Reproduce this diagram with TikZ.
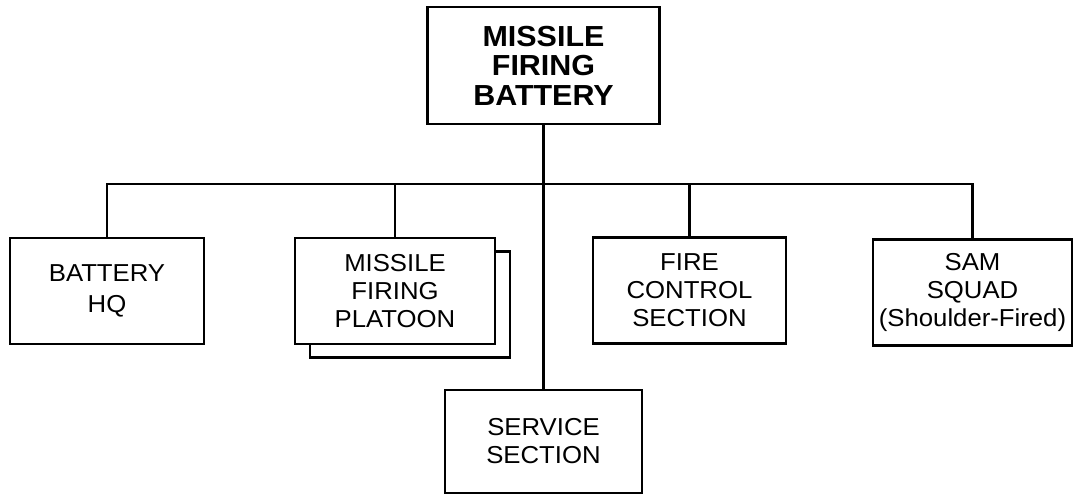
\documentclass[tikz,border=0pt]{standalone}
\usepackage{fontspec}
\setmainfont[FakeStretch=1.05]{Liberation Sans}
\usetikzlibrary{positioning}

\begin{document}
\begin{tikzpicture}[
    x=1pt, y=-1pt,
    unitbox/.style={rectangle, draw, line width=2.2pt, fill=white, inner sep=0pt, minimum width=#1, minimum height=106pt, align=center, font=\fontsize{24.5}{28}\selectfont},
    headbox/.style={unitbox=232pt, minimum height=117pt, font=\fontsize{29}{29.5}\selectfont\bfseries},
    link/.style={line width=2.2pt}
]
    \useasboundingbox (0,0) rectangle (1074,495);

    \node[headbox] (top) at (543.5,65.5) {MISSILE\\FIRING\\BATTERY};
    \node[unitbox=194pt, font=\fontsize{24.5}{31.5}\selectfont] (hq) at (107,291) {BATTERY\\HQ};
    \node[unitbox=200pt] (platoonback) at (410,304.5) {};
    \node[unitbox=200pt] (platoon) at (395,291) {MISSILE\\FIRING\\PLATOON};
    \node[unitbox=193pt] (fire) at (689.5,290.5) {FIRE\\CONTROL\\SECTION};
    \node[unitbox=199pt] (sam) at (972.5,292.5) {SAM\\SQUAD\\(Shoulder-Fired)};
    \node[unitbox=197pt, minimum height=103pt] (service) at (543.5,441.5) {SERVICE\\SECTION};

    \coordinate (bus) at (543.5,184);
    \draw[link] (top) -- (service);
    \draw[link] (hq.north) |- (bus) -| (sam.north);
    \draw[link] (platoon.north) -- (platoon.north |- bus);
    \draw[link] (fire.north) -- (fire.north |- bus);
\end{tikzpicture}
\end{document}
